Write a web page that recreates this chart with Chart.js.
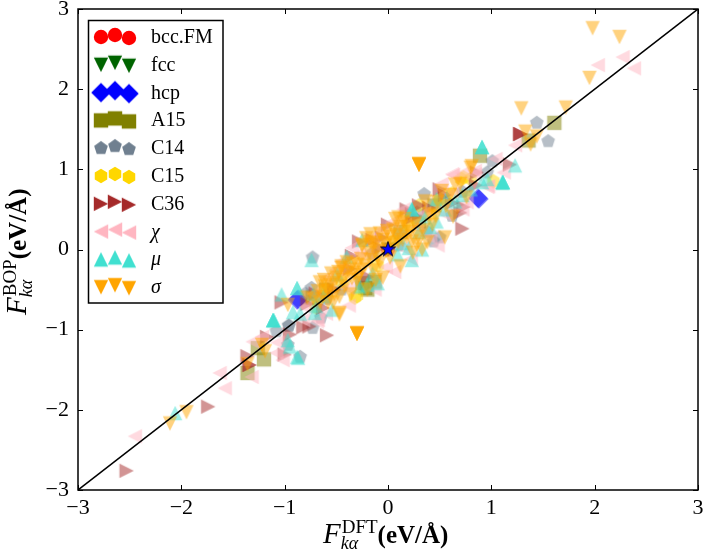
<!DOCTYPE html>
<html>
<head>
<meta charset="utf-8">
<style>
  html, body { margin: 0; padding: 0; background: #fff; }
  canvas { display: block; }
</style>
<script src="https://cdn.jsdelivr.net/npm/chart.js@4/dist/chart.umd.min.js"></script>
</head>
<body>
<canvas id="forces" width="703" height="550"></canvas>
<script>
const axisTicks = [-3, -2, -1, 0, 1, 2, 3];
const diagonal = [[-3, -3], [3, 3]];
const origin = [[0, 0]];

const bccPts = [[0, 0]];
const fccPts = [[0, 0]];
const hcpPts = [[0.87, 0.64], [0.88, 0.63], [-0.87, -0.62], [-0.88, -0.63]];
const a15Pts = [[1.61, 1.58], [0.89, 1.17], [1.36, 1.36], [-1.36, -1.54], [-1.20, -1.37], [-1.26, -1.23],
  [-0.13, -0.40], [-0.73, -0.60], [-0.20, -0.50], [-0.22, -0.48], [0.12, 0.22], [0.45, 0.55], [-0.25, -0.42],
  [0.30, 0.35], [-0.60, -0.50]];
const c14Pts = [[1.44, 1.58], [1.55, 1.35], [1.01, 1.10], [0.35, 0.69], [0.96, 0.96], [-0.73, -0.10],
  [-0.74, -0.48], [-0.96, -0.95], [-0.96, -0.95], [-1.08, -1.02], [-0.73, -0.98], [-0.85, -1.34],
  [-0.97, -1.19], [0.44, 0.10], [0.28, 0.46], [0.50, 0.15], [-0.60, -0.62], [0.10, 0.05],
  [-0.80, -0.55], [-0.45, -0.50], [0.62, 0.42], [0.38, 0.22], [-0.15, -0.05], [0.72, 0.72], [-0.65, -0.85]];
const c15Pts = [[-0.30, -0.58], [0.71, 0.88], [1.02, 0.85], [0.50, 0.63], [0.73, 0.90], [0.41, 0.44],
  [0.20, 0.30], [-0.45, -0.40], [-0.10, -0.20], [0.62, 0.70], [-0.32, -0.60], [0.80, 0.88],
  [0.30, 0.55], [-0.60, -0.50], [0.05, 0.10], [-0.70, -0.72]];
const c36Pts = [[-2.53, -2.76], [-1.74, -1.96], [-0.59, -1.07], [-1.36, -1.33], [-1.34, -1.44], [-1.34, -1.44],
  [-1.17, -1.09], [-1.00, -1.31], [-0.95, -1.06], [-0.82, -0.97], [-0.76, -0.96], [-1.03, -0.66],
  [0.72, 0.26], [0.73, 0.53], [1.18, 1.06], [0.70, 0.46], [1.28, 1.44], [1.28, 1.44], [1.28, 1.44],
  [0.00, 0.31], [0.24, 0.40], [-0.06, 0.15], [0.23, 0.44], [0.50, 0.75], [0.86, 0.96],
  [-0.63, -0.73], [-0.20, -0.34], [-0.37, -0.24], [-0.15, 0.12], [-0.52, -0.50], [0.40, 0.52],
  [-0.78, -0.68], [-0.35, -0.08], [-0.28, 0.10], [0.18, 0.50], [0.55, 0.68], [0.62, 0.58], [-0.70, -0.55],
  [0.30, 0.55], [-0.08, 0.02], [0.85, 0.80]];
const chiPts = [[2.03, 2.30], [2.27, 2.40], [2.38, 2.26], [1.23, 1.30], [0.63, 0.93], [1.04, 1.13],
  [1.12, 0.96], [0.96, 0.78], [0.84, 0.94], [-2.45, -2.33], [-1.63, -1.54], [-1.58, -1.73],
  [-1.32, -1.59], [-1.31, -1.15], [-1.22, -1.09], [-1.07, -1.16], [-1.08, -1.29], [-1.02, -1.38],
  [-0.69, -0.90], [-0.68, -0.88], [-0.39, -0.48], [-0.59, -0.35], [-0.82, -0.88], [-0.13, -0.50],
  [0.62, 0.94], [0.72, 0.50], [0.41, 0.15], [0.55, 0.44], [0.76, 0.59], [0.14, 0.02],
  [0.04, 0.34], [-0.06, 0.25], [0.97, 0.79], [0.84, 0.98], [-0.50, -0.25], [-0.20, -0.05],
  [-0.80, -0.72], [-0.72, -0.55], [-0.45, -0.15], [-0.28, -0.05], [-0.35, 0.02], [-0.15, 0.15],
  [0.15, 0.50], [0.22, -0.12], [0.28, 0.28], [0.48, 0.05], [0.62, 0.70], [0.52, 0.82], [0.72, 0.95],
  [-0.02, -0.22], [0.06, -0.28], [-0.60, -0.80], [-0.38, -0.70], [0.35, 0.45]];
const muPts = [[1.11, 0.84], [1.11, 0.84], [1.11, 0.84], [1.11, 0.84], [1.11, 0.84],
  [0.91, 1.28], [0.91, 1.28], [0.91, 1.28], [1.23, 1.05], [-2.06, -2.04],
  [-1.11, -0.88], [-1.11, -0.88], [-1.11, -0.88], [-1.11, -0.88], [-1.11, -0.88],
  [-0.97, -1.13], [-0.95, -1.21], [-0.88, -1.34], [-0.87, -1.35], [0.23, 0.50], [0.23, 0.50], [0.23, 0.50],
  [0.91, 0.84], [-0.74, -0.13], [-1.03, -0.56], [-0.88, -0.48], [-0.88, -0.48], [-0.49, -0.31], [-0.40, -0.09],
  [-0.71, -0.79], [-0.54, -0.75], [-0.27, -0.46], [-0.20, -0.44], [-0.92, -0.78],
  [0.33, 0.00], [0.23, -0.13], [0.09, -0.06], [0.47, 0.63], [0.57, 0.65], [0.65, 0.60],
  [0.47, 0.35], [0.36, 0.40], [0.41, 0.28], [0.96, 0.88],
  [-0.70, -0.70], [-0.62, -0.58], [-0.72, -0.55], [-0.15, -0.30], [-0.10, -0.42], [0.14, 0.08],
  [0.20, 0.02], [0.30, 0.22], [0.55, 0.50], [0.72, 0.68], [0.80, 0.75], [-0.25, 0.12], [-0.85, -0.80]];
const sigmaPts = [[1.98, 2.76], [2.24, 2.65], [1.95, 2.14], [1.72, 1.77], [1.29, 1.76],
  [0.30, 1.06], [0.30, 1.06], [0.30, 1.06], [0.30, 1.06], [0.30, 1.06],
  [-0.30, -1.05], [-0.30, -1.05], [-0.30, -1.05], [-0.30, -1.05], [-0.30, -1.05],
  [1.33, 1.47], [1.44, 1.41], [1.38, 1.31], [0.80, 1.02], [-2.11, -2.17], [-1.95, -2.03],
  [-1.36, -1.43], [-1.22, -1.19], [-1.19, -1.27], [-0.47, -0.79],
  [-0.45, -0.23], [-0.61, -0.46], [-0.56, -0.44], [-0.66, -0.41], [-0.50, -0.35], [-0.37, -0.25],
  [-0.30, -0.19], [-0.25, 0.06], [-0.17, 0.09], [-0.20, -0.50], [-0.05, -0.35], [-0.47, -0.81],
  [-0.53, -0.66], [-0.97, -0.69], [-0.40, -0.16], [-0.32, -0.29], [-0.17, -0.13], [-0.11, 0.00],
  [-0.63, -0.59], [-0.47, -0.59], [-0.30, -0.38], [0.81, 1.04], [0.36, 0.60], [0.52, 0.73],
  [0.65, 0.81], [0.76, 0.65], [0.63, 0.41], [0.55, 0.15], [0.48, 0.59], [0.43, 0.31],
  [0.38, 0.09], [0.33, 0.00], [0.24, -0.04], [0.12, -0.21], [0.07, 0.38], [0.15, 0.34],
  [0.05, 0.25], [0.18, 0.16], [0.29, 0.16], [0.02, 0.16], [-0.05, 0.12], [0.10, 0.09],
  [0.23, 0.10], [0.10, 0.40], [-0.17, 0.19], [-0.25, 0.04], [-0.15, 0.06], [-0.45, -0.21],
  [-0.01, 0.23], [0.16, 0.38], [-0.40, -0.30], [-0.55, -0.30], [-0.25, -0.25], [-0.10, -0.10],
  [-0.68, -0.52], [-0.62, -0.38], [-0.58, -0.52], [-0.52, -0.42], [-0.44, -0.38], [-0.48, -0.28],
  [-0.42, -0.46], [-0.35, -0.36], [-0.34, -0.18], [-0.28, -0.32], [-0.26, -0.12], [-0.22, -0.20],
  [-0.18, -0.04], [-0.14, -0.26], [-0.08, -0.16], [-0.21, 0.14], [-0.12, 0.08], [-0.08, 0.20],
  [-0.02, 0.08], [0.04, 0.05], [0.08, 0.18], [0.12, 0.28], [0.18, 0.28], [0.22, 0.22], [0.26, 0.32],
  [0.14, 0.12], [0.28, 0.06], [0.34, 0.24], [0.40, 0.44], [0.46, 0.42], [0.56, 0.54], [0.60, 0.68],
  [-0.72, -0.62], [-0.66, -0.66], [-0.58, -0.66], [-0.52, -0.56], [-0.78, -0.60], [-0.36, -0.56],
  [-0.12, -0.38], [-0.02, -0.02], [0.02, -0.10], [0.70, 0.82]];

const serif = '"Liberation Serif", serif';

// shape outlines in a box of half width 1, y pointing down
const triUp = [[0, -1], [1, 1], [-1, 1]];
function polygon(n, r) {
  const pts = [];
  for (let i = 0; i < n; i++) {
    const a = -Math.PI / 2 + i * 2 * Math.PI / n;
    pts.push([r * Math.cos(a), r * Math.sin(a)]);
  }
  return pts;
}
const outlines = {
  down: triUp.map(p => [p[0], -p[1]]),
  up: triUp,
  right: [[-1, -1], [1, 0], [-1, 1]],
  left: [[1, -1], [-1, 0], [1, 1]],
  square: [[-1, -1], [1, -1], [1, 1], [-1, 1]],
  diamond: [[0, -1.35], [1.35, 0], [0, 1.35], [-1.35, 0]],
  pentagon: polygon(5, 1),
  hexagon: polygon(6, 1)
};

// the markers are small canvases, Chart.js stamps them as a pointStyle
function marker(shape, color, alpha) {
  const c = document.createElement('canvas');
  c.width = c.height = 26;
  const g = c.getContext('2d');
  g.translate(13, 13);
  g.globalAlpha = alpha;
  g.fillStyle = color;
  g.beginPath();
  if (shape === 'circle') {
    g.arc(0, 0, 7.2, 0, 2 * Math.PI);
  } else {
    outlines[shape].forEach((p, i) => {
      if (i === 0) g.moveTo(p[0] * 7.2, p[1] * 7.2);
      else g.lineTo(p[0] * 7.2, p[1] * 7.2);
    });
    g.closePath();
  }
  g.fill();
  return c;
}

function starMarker() {
  const c = document.createElement('canvas');
  c.width = c.height = 26;
  const g = c.getContext('2d');
  g.translate(13, 13);
  g.beginPath();
  for (let i = 0; i < 10; i++) {
    const r = i % 2 ? 3.1 : 8;
    const a = -Math.PI / 2 + i * Math.PI / 5;
    g.lineTo(r * Math.cos(a), r * Math.sin(a));
  }
  g.closePath();
  g.fillStyle = '#0000ff';
  g.strokeStyle = '#000';
  g.lineWidth = 0.8;
  g.fill();
  g.stroke();
  return c;
}

const series = [
  { name: 'bcc.FM', pts: bccPts, shape: 'circle', color: '#ff0000' },
  { name: 'fcc', pts: fccPts, shape: 'down', color: '#006400' },
  { name: 'hcp', pts: hcpPts, shape: 'diamond', color: '#0000ff' },
  { name: 'A15', pts: a15Pts, shape: 'square', color: '#808000' },
  { name: 'C14', pts: c14Pts, shape: 'pentagon', color: '#708090' },
  { name: 'C15', pts: c15Pts, shape: 'hexagon', color: '#ffd700' },
  { name: 'C36', pts: c36Pts, shape: 'right', color: '#a52a2a' },
  { name: 'χ', pts: chiPts, shape: 'left', color: '#ffb6c1', italic: true },
  { name: 'μ', pts: muPts, shape: 'up', color: '#40e0d0', italic: true },
  { name: 'σ', pts: sigmaPts, shape: 'down', color: '#ffa500', italic: true }
];

// image point styles ignore the radius, a small one keeps the layout from adding overflow space
const datasets = series.map((s, i) => ({
  label: s.name,
  data: s.pts,
  pointStyle: marker(s.shape, s.color, 0.5),
  pointRadius: 1,
  pointBorderWidth: 0,
  order: 100 - i
}));
datasets.push({
  label: 'x = y',
  data: diagonal,
  showLine: true,
  borderColor: '#000',
  borderWidth: 1.5,
  pointRadius: 0,
  order: 2
});
datasets.push({
  label: 'origin',
  data: origin,
  pointStyle: starMarker(),
  pointRadius: 1,
  pointBorderWidth: 0,
  order: 1
});

// writes mixed font runs along the baseline, sup and sub share one x slot
function writeRuns(ctx, runs) {
  let x = 0;
  runs.forEach(r => {
    let w = 0;
    r.forEach(part => {
      ctx.font = part.font;
      ctx.fillText(part.text, x + (part.dx || 0), part.dy || 0);
      w = Math.max(w, ctx.measureText(part.text).width + (part.dx || 0));
    });
    x += w;
  });
}

function axisLabel(sup) {
  return [
    [{ text: 'F', font: 'italic 29px ' + serif }],
    [{ text: sup, font: '19px ' + serif, dy: -10, dx: 1 }, { text: 'kα', font: 'italic 18px ' + serif, dy: 6 }],
    [{ text: '(eV/Å)', font: 'bold 25px ' + serif }]
  ];
}

const framePlugin = {
  id: 'frame',
  afterDatasetsDraw(chart) {
    const { ctx, chartArea: a, scales } = chart;
    ctx.save();
    ctx.strokeStyle = '#000';
    ctx.lineWidth = 1;
    ctx.beginPath();
    axisTicks.forEach(v => {
      const px = Math.round(scales.x.getPixelForValue(v)) + 0.5;
      const py = Math.round(scales.y.getPixelForValue(v)) + 0.5;
      ctx.moveTo(px, a.top); ctx.lineTo(px, a.top + 5);
      ctx.moveTo(px, a.bottom); ctx.lineTo(px, a.bottom - 5);
      ctx.moveTo(a.left, py); ctx.lineTo(a.left + 5, py);
      ctx.moveTo(a.right, py); ctx.lineTo(a.right - 5, py);
    });
    ctx.stroke();
    ctx.lineWidth = 1.5;
    ctx.strokeRect(a.left, a.top, a.right - a.left, a.bottom - a.top);

    // legend box with three stamped markers per row
    ctx.fillStyle = '#fff';
    ctx.fillRect(88, 20, 135, 283);
    ctx.strokeRect(88.5, 20.5, 134.5, 282.5);
    ctx.fillStyle = '#000';
    ctx.textBaseline = 'alphabetic';
    series.forEach((s, i) => {
      const y = 37 + i * 27.8;
      const m = marker(s.shape, s.color, 1);
      [[101, 0], [115, -2], [129, 1]].forEach(o => ctx.drawImage(m, o[0] - 13, y + o[1] - 13));
      ctx.font = (s.italic ? 'italic ' : '') + '20px ' + serif;
      ctx.fillText(s.name, 151, y + 6);
    });

    ctx.save();
    ctx.translate(323, 543);
    writeRuns(ctx, axisLabel('DFT'));
    ctx.restore();
    ctx.save();
    ctx.translate(26, 315);
    ctx.rotate(-Math.PI / 2);
    writeRuns(ctx, axisLabel('BOP'));
    ctx.restore();
    ctx.restore();
  }
};

function tickText(v) {
  return v < 0 ? '\u2212' + Math.abs(v) : String(v);
}

function zeroPadding(scale) {
  scale.paddingLeft = scale.paddingRight = scale.paddingTop = scale.paddingBottom = 0;
}

new Chart(document.getElementById('forces'), {
  type: 'scatter',
  data: { datasets },
  plugins: [framePlugin],
  options: {
    responsive: false,
    animation: false,
    layout: { padding: { top: 9, right: 5, left: 0, bottom: 0 } },
    plugins: { legend: { display: false }, tooltip: { enabled: false } },
    scales: {
      x: {
        min: -3, max: 3,
        grid: { display: false, drawTicks: false },
        border: { display: false },
        afterFit(scale) { scale.height = 60; zeroPadding(scale); },
        afterBuildTicks(scale) { scale.ticks = axisTicks.map(v => ({ value: v })); },
        ticks: {
          autoSkip: false, maxRotation: 0, padding: 5, color: '#000',
          font: { family: serif, size: 22 },
          callback: tickText
        }
      },
      y: {
        min: -3, max: 3,
        grid: { display: false, drawTicks: false },
        border: { display: false },
        afterFit(scale) { scale.width = 78; zeroPadding(scale); },
        afterBuildTicks(scale) { scale.ticks = axisTicks.map(v => ({ value: v })); },
        ticks: {
          autoSkip: false, padding: 9, color: '#000',
          font: { family: serif, size: 22 },
          callback: tickText
        }
      }
    }
  }
});
</script>
</body>
</html>
